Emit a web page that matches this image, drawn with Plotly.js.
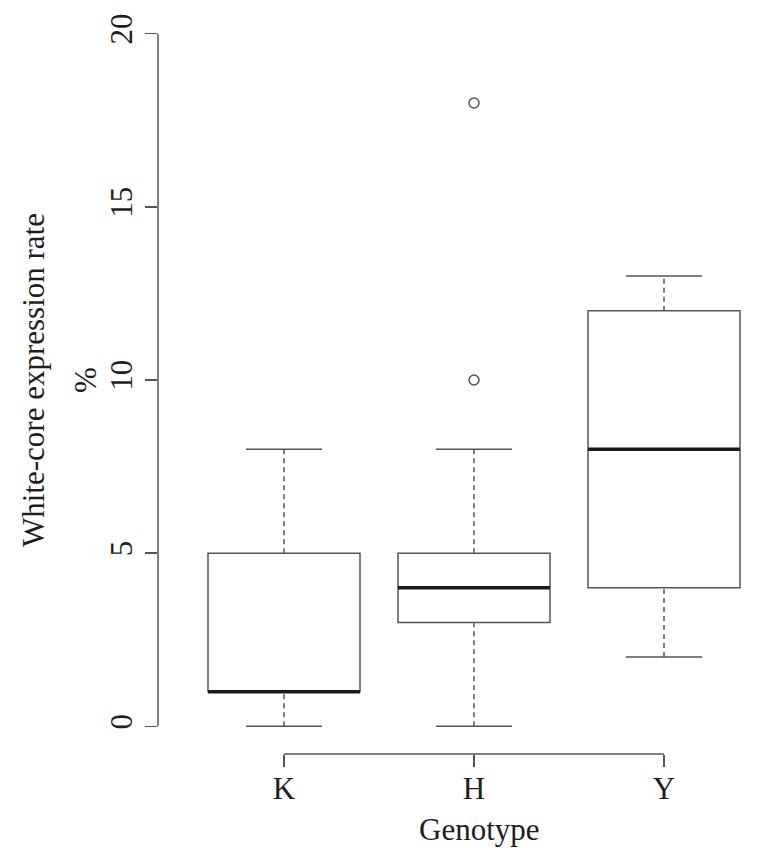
<!DOCTYPE html>
<html>
<head>
<meta charset="utf-8">
<script src="https://cdn.plot.ly/plotly-3.0.1.min.js"></script>
<style>html,body{margin:0;padding:0;background:#fff;}#chart{width:762px;height:865px;}</style>
</head>
<body>
<div id="chart"></div>
<script>
// ---- data ----
const categories = ['K', 'H', 'Y'];
const lowerWhisker = [0, 0, 2];
const q1 = [1, 3, 4];
const median = [1, 4, 8];
const q3 = [5, 5, 12];
const upperWhisker = [8, 8, 13];
const outlierGroup = ['H', 'H'];
const outlierValues = [10, 18];
const yTickVals = [0, 5, 10, 15, 20];

// ---- style ----
const FONT = 'Liberation Serif, Times New Roman, serif';
const TXT = '#1e1e1e';
const LINE = '#555';
const BOXW = 0.8;
const CAPW = 0.4;

const pos = categories.map((c, i) => i + 1);
const posOf = c => pos[categories.indexOf(c)];

const traces = [];
categories.forEach((c, i) => {
  const p = pos[i];
  traces.push({
    type: 'box', x: [p], q1: [q1[i]], median: [median[i]], q3: [q3[i]],
    lowerfence: [q1[i]], upperfence: [q3[i]], width: BOXW, whiskerwidth: 0,
    boxpoints: false, fillcolor: 'rgba(255,255,255,0)',
    line: {color: LINE, width: 1.5}, hoverinfo: 'skip', showlegend: false
  });
  // dashed whiskers
  traces.push({
    type: 'scatter', mode: 'lines',
    x: [p, p, null, p, p], y: [lowerWhisker[i], q1[i], null, q3[i], upperWhisker[i]],
    line: {color: LINE, width: 1.5, dash: '5px,4px'}, showlegend: false, hoverinfo: 'skip'
  });
  // staples
  traces.push({
    type: 'scatter', mode: 'lines',
    x: [p - CAPW / 2, p + CAPW / 2, null, p - CAPW / 2, p + CAPW / 2],
    y: [lowerWhisker[i], lowerWhisker[i], null, upperWhisker[i], upperWhisker[i]],
    line: {color: LINE, width: 1.5}, showlegend: false, hoverinfo: 'skip'
  });
  // thick median
  traces.push({
    type: 'scatter', mode: 'lines',
    x: [p - BOXW / 2, p + BOXW / 2], y: [median[i], median[i]],
    line: {color: '#1a1a1a', width: 3.5}, showlegend: false, hoverinfo: 'skip'
  });
});
traces.push({
  type: 'scatter', mode: 'markers',
  x: outlierGroup.map(posOf), y: outlierValues,
  marker: {symbol: 'circle-open', size: 10, color: LINE, line: {width: 1.5, color: LINE}},
  showlegend: false, hoverinfo: 'skip'
});

const ML = 158, MR = 3, MT = 6, MB = 111;
const W = 762, H = 865;
const pw = W - ML - MR;
const xLeft = 1 - 126 / 190;
const xRight = 3.5;
const px2paper = px => (px - ML) / pw;

const layout = {
  width: W, height: H,
  margin: {l: ML, r: MR, t: MT, b: MB, pad: 0},
  paper_bgcolor: '#fff', plot_bgcolor: '#fff',
  font: {family: FONT, color: TXT, size: 31},
  xaxis: {
    range: [xLeft, xRight], tickvals: pos, ticktext: categories,
    showgrid: false, zeroline: false, showline: false,
    ticks: 'outside', ticklen: 12, tickwidth: 1.5, tickcolor: LINE,
    ticklabelstandoff: -5,
    tickfont: {family: FONT, size: 31, color: TXT}, fixedrange: true
  },
  yaxis: {
    range: [-0.8, 20.8], tickvals: yTickVals, ticktext: yTickVals.map(String),
    tickangle: -90, showgrid: false, zeroline: false, showline: false,
    ticks: 'outside', ticklen: 12, tickwidth: 1.5, tickcolor: LINE,
    ticklabelstandoff: 1,
    tickfont: {family: FONT, size: 31, color: TXT}, fixedrange: true
  },
  shapes: [
    {type: 'line', xref: 'paper', yref: 'y', x0: 0, x1: 0,
     y0: Math.min(...yTickVals), y1: Math.max(...yTickVals), line: {color: LINE, width: 1.5}},
    {type: 'line', xref: 'x', yref: 'paper', y0: 0, y1: 0,
     x0: pos[0], x1: pos[pos.length - 1], line: {color: LINE, width: 1.5}}
  ],
  annotations: [
    {text: 'White-core expression rate', textangle: -90, xref: 'paper', yref: 'y',
     x: px2paper(33), y: 10, showarrow: false, xanchor: 'center', yanchor: 'middle',
     font: {family: FONT, size: 31, color: TXT}},
    {text: '%', textangle: -90, xref: 'paper', yref: 'y',
     x: px2paper(85), y: 10, showarrow: false, xanchor: 'center', yanchor: 'middle',
     font: {family: FONT, size: 31, color: TXT}},
    {text: 'Genotype', xref: 'paper', yref: 'paper',
     x: px2paper(479), y: 0, yshift: -(829 - 753.7), showarrow: false,
     xanchor: 'center', yanchor: 'middle',
     font: {family: FONT, size: 31, color: TXT}}
  ]
};

Plotly.newPlot('chart', traces, layout, {staticPlot: true, displayModeBar: false});
</script>
</body>
</html>
